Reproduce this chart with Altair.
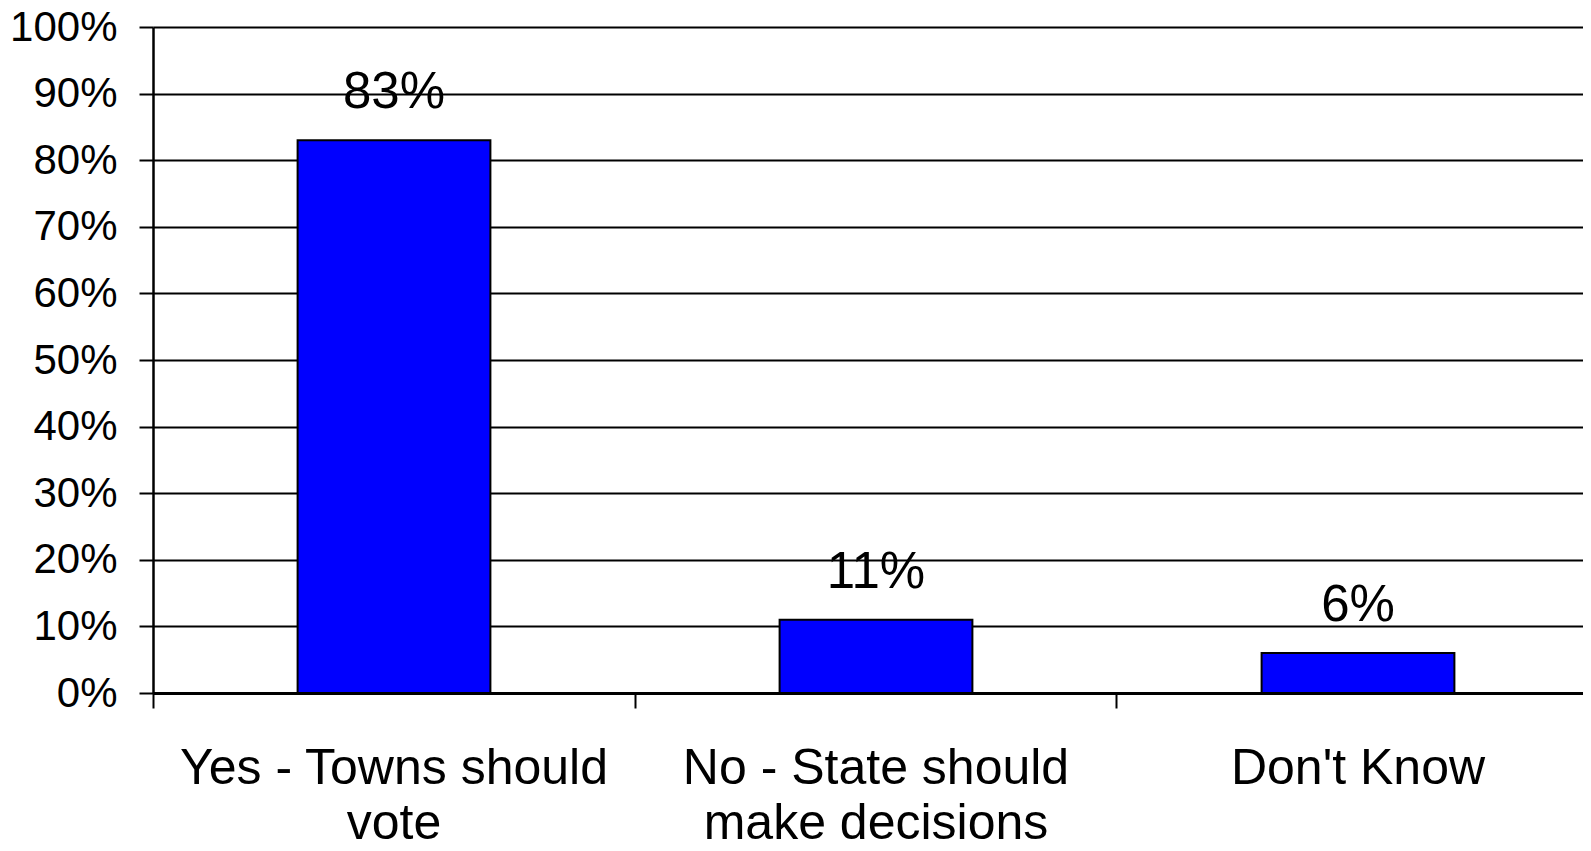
import altair as alt
import pandas as pd

categories = ["Yes - Towns should vote", "No - State should make decisions", "Don't Know"]
shares = [0.83, 0.11, 0.06]
y_ticks = [0, 0.1, 0.2, 0.3, 0.4, 0.5, 0.6, 0.7, 0.8, 0.9, 1.0]

df = pd.DataFrame({"answer": categories, "share": shares})

FONT = "Liberation Sans"

x_enc = alt.X(
    "answer:N",
    sort=categories,
    title=None,
    scale=alt.Scale(paddingInner=0.6, paddingOuter=0.3, range=[0, 1446]),
    axis=alt.Axis(
        labelAngle=0,
        labelFont=FONT,
        labelFontSize=50,
        labelColor="black",
        labelBaseline="top",
        labelLineHeight=55,
        labelPadding=35,
        labelExpr="split(replace(datum.value, ' should ', ' should|'), '|')",
        labelLimit=0,
        tickSize=15,
        tickWidth=2,
        tickColor="black",
        bandPosition=-0.75,
        domainColor="black",
        domainWidth=3,
        grid=False,
    ),
)

y_enc = alt.Y(
    "share:Q",
    title=None,
    scale=alt.Scale(domain=[0, 1], nice=False),
    axis=alt.Axis(
        values=y_ticks,
        format=".0%",
        labelFont=FONT,
        labelFontSize=42,
        labelColor="black",
        labelPadding=22,
        tickSize=14,
        tickWidth=2,
        tickColor="black",
        domainColor="black",
        domainWidth=2.5,
        grid=True,
        gridColor="black",
        gridWidth=2,
        gridOpacity=1,
    ),
)

bars = alt.Chart(df).mark_bar(
    color="#0000FF", stroke="black", strokeWidth=2
).encode(x=x_enc, y=y_enc)

labels = alt.Chart(df).mark_text(
    font=FONT, fontSize=51, color="black", baseline="alphabetic", dy=-32
).encode(
    x=alt.X("answer:N", sort=categories),
    y=alt.Y("share:Q"),
    text=alt.Text("share:Q", format=".0%"),
)

chart = (
    alt.layer(bars, labels)
    .properties(
        width=1430,
        height=666,
        padding={"left": 145, "top": 19, "right": 0, "bottom": 149},
        autosize=alt.AutoSizeParams(type="none"),
        background="white",
    )
    .configure_view(stroke=None)
)

chart.save("out.html", embed_options={"renderer": "svg", "actions": False})
